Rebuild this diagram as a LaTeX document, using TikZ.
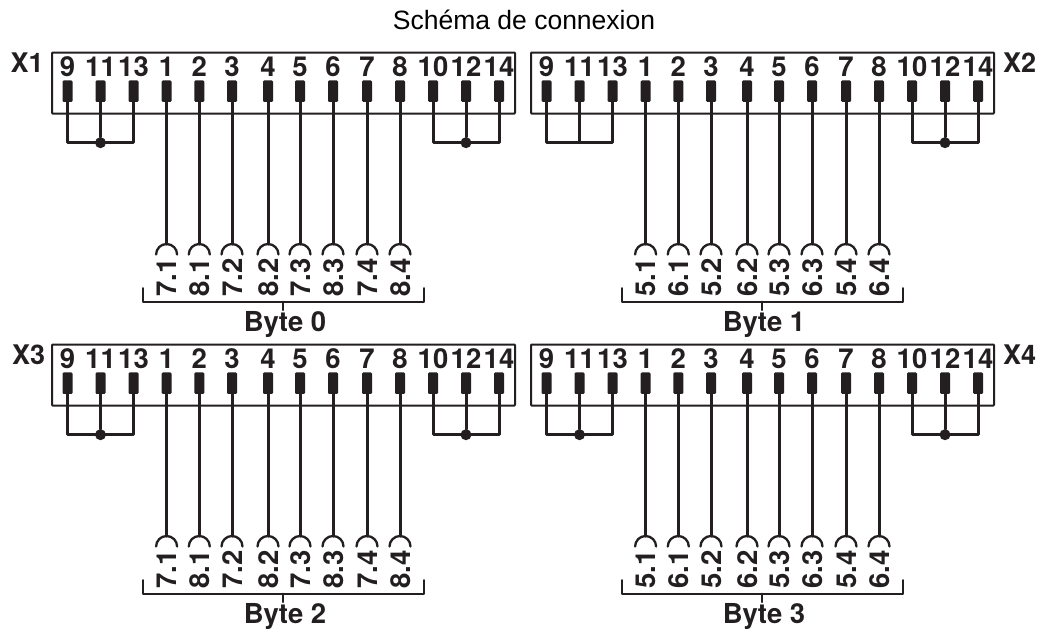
\documentclass[tikz,border=0pt]{standalone}
\usepackage{fontspec}
\setmainfont{Liberation Sans}
\newfontfamily\hvb{TeX Gyre Heros}
\definecolor{ink}{HTML}{231F20}
\tikzset{
  wire/.style={draw=ink,line width=3pt,line cap=round,line join=round},
  framebox/.style={draw=ink,line width=2pt,rounded corners=0.8pt,minimum width=463pt,minimum height=61pt,inner sep=0pt},
  pinbox/.style={fill=ink,rounded corners=1.2pt,minimum width=10pt,minimum height=21.5pt,inner sep=0pt},
  pinlab/.style={font=\fontsize{27.5}{28}\hvb\bfseries,text=ink,inner sep=0pt,anchor=base},
  contlab/.style={font=\fontsize{27.5}{28}\hvb\bfseries,text=ink,inner sep=0pt,rotate=90,anchor=base west},
  bytelab/.style={font=\fontsize{27.5}{28}\hvb\bfseries,text=ink,inner sep=0pt,anchor=base},
  xlab/.style={font=\fontsize{27}{27}\hvb\bfseries,text=ink,inner sep=0pt,anchor=base west},
  junc/.style={circle,fill=ink,minimum size=11pt,inner sep=0pt},
  nojunc/.style={circle,minimum size=0pt,inner sep=0pt},
}
% #1 prefix, #2 x shift, #3 y shift, #4 odd contact, #5 even contact,
% #6 left junction style, #7 byte text, #8 x of Xn label, #9 Xn text
\newcommand{\connblock}[9]{%
\begin{scope}[shift={(#2,#3)},name prefix=#1-]
  \node[framebox] (box) at (231.5,83) {};
  \foreach \lab/\px in {9/15.5,11/48.5,13/81.5,1/114.6,2/147.3,3/180,4/216,5/248,6/281,7/315,8/348,10/381,12/414,14/447}{
    \node[pinbox] (p\lab) at (\px,91.2) {};
    \node[pinlab] (t\lab) at (\px,76.7) {\lab};
  }
  \coordinate (loopy) at (0,142.7);
  \node[#6] (jl) at (p11 |- loopy) {};
  \node[junc] (jr) at (p12 |- loopy) {};
  \draw[wire] (p9.south) -- (p9 |- loopy) -- (p13 |- loopy) -- (p13.south);
  \draw[wire] (p11.south) -- (jl);
  \draw[wire] (p10.south) -- (p10 |- loopy) -- (p14 |- loopy) -- (p14.south);
  \draw[wire] (p12.south) -- (jr);
  \foreach \lab/\px/\txt in {1/114.6/#4.1,2/147.3/#5.1,3/180/#4.2,4/216/#5.2,5/248/#4.3,6/281/#5.3,7/315/#4.4,8/348/#5.4}{
    \coordinate (c\lab) at (\px,244);
    \draw[wire] (p\lab.south) -- (c\lab);
    \draw[wire,line width=2.3pt] (c\lab) ++(-10.5,10.5) .. controls +(0,-5.8) and +(-5.8,0) .. (c\lab) .. controls +(5.8,0) and +(0,-5.8) .. ++(10.5,10.5);
    \node[contlab] (l\lab) at (\px+10.3,296.5) {\txt};
  }
  \coordinate (bl) at (91.3,288);
  \coordinate (br) at (372,288);
  \coordinate (bm) at (231.3,301.7);
  \coordinate (bt) at (231.3,310);
  \draw[wire,line width=2pt] (bl) -- (bl |- bm) -- (br |- bm) -- (br);
  \draw[wire,line width=2pt] (bm) -- (bt);
  \node[bytelab] (byte) at (233,331.7) {#7};
  \node[xlab] (xn) at (#8,72) {#9};
\end{scope}}
\begin{document}
\begin{tikzpicture}[x=1pt,y=-1pt]
  \useasboundingbox (0,0) rectangle (1040,638);
  \node[font=\fontsize{26.5}{26.5}\selectfont,inner sep=0pt,anchor=base] (title) at (524,29.5) {Schéma de connexion};
  \connblock{A}{52}{0}{7}{8}{junc}{Byte 0}{-41.5}{X1}
  \connblock{B}{531}{0}{5}{6}{nojunc}{Byte 1}{472}{X2}
  \connblock{C}{52}{292}{7}{8}{junc}{Byte 2}{-40}{X3}
  \connblock{D}{531}{292}{5}{6}{junc}{Byte 3}{472}{X4}
\end{tikzpicture}
\end{document}
